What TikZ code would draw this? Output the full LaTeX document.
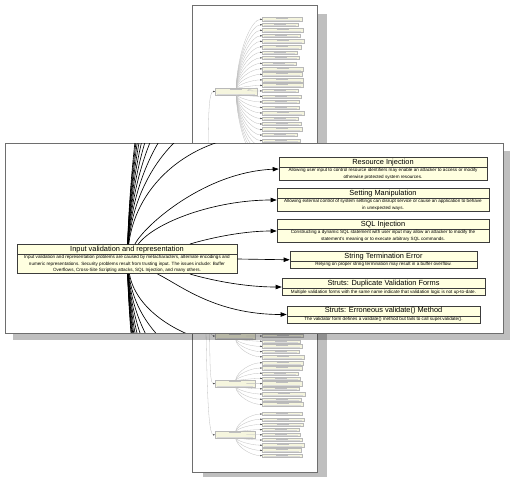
\documentclass[tikz,border=0pt]{standalone}
\usepackage{fontspec}
\setmainfont{Liberation Sans}
\usetikzlibrary{arrows.meta,shapes.multipart}

\definecolor{boxfill}{RGB}{255,255,224}
\definecolor{boxline}{RGB}{60,60,60}
\definecolor{thumbfill}{RGB}{245,245,222}
\definecolor{pageshadow}{RGB}{191,191,191}
\definecolor{frameline}{RGB}{110,110,110}

\newcommand{\ttlfont}{\fontsize{7.4}{9}\selectfont}
\newcommand{\dscfont}{\fontsize{4.6}{6.3}\selectfont}

\begin{document}
\begin{tikzpicture}[x=1pt, y=-1pt,
    vuln/.style={rectangle split, rectangle split parts=2, draw=boxline,
      line width=0.6pt, fill=boxfill, inner xsep=1pt, inner ysep=1.1pt,
      align=center, font=\ttlfont},
    every two node part/.style={font=\dscfont},
    vlink/.style={draw=black, line width=0.65pt, -{Triangle[length=6pt,width=4.4pt]}},
    thumb/.style={draw=gray!55, line width=0.25pt, fill=thumbfill, inner sep=0pt,
      minimum height=#1, anchor=west,
      path picture={
        \draw[gray!50, line width=0.6pt]
          ([xshift=-6pt,yshift=-1.1pt]path picture bounding box.north) --
          ([xshift=6pt,yshift=-1.1pt]path picture bounding box.north);
        \draw[gray!30, line width=0.5pt]
          ([xshift=2pt,yshift=0.9pt]path picture bounding box.south west) --
          ([xshift=-2pt,yshift=0.9pt]path picture bounding box.south east);}},
    thumbcat/.style={thumb=#1, anchor=center},
    tlink/.style={draw=gray!50, line width=0.3pt,
      -{Triangle[length=1.6pt,width=1.4pt,color=gray!40!black]}}]

\useasboundingbox (0,0) rectangle (510,479);

% the whole page, shrunk
\fill[pageshadow] (202.7,14) rectangle (326.7,477.3);
\draw[frameline, line width=0.8pt, fill=white] (192,5) rectangle (317,472);

\coordinate (root) at (204,250);
\node[thumbcat=7, minimum width=42pt] (tA) at (236,91.5) {};
\node[thumbcat=6.5, minimum width=40pt] (tB) at (235,336) {};
\node[thumbcat=6.5, minimum width=40pt] (tC) at (235,383.6) {};
\node[thumbcat=6.5, minimum width=40pt] (tD) at (235,434.8) {};

\draw[tlink] (root) .. controls (211,170) and (205,91.5) .. (tA.west);
\draw[tlink] (root) .. controls (210,300) and (206,336) .. (tB.west);
\draw[tlink] (root) .. controls (213,320) and (207,383.6) .. (tC.west);
\draw[tlink] (root) .. controls (207,340) and (206,434.8) .. (tD.west);

\foreach \w/\h [count=\i] in {40/4.2,36/3,41/4.2,38/3,42/4.2,39/4.2,35/3,37/3,34/3,41/4.2,
    39.7/4.2,40.5/4.2,40.5/4.2,35.7/2.9,38.7/3,36.8/2.9,
    37/3,42/4.2,36/3,39/3,40/4.2,35/3,38/3,41/4.2,36/3,40/4.2,37/3}{
  \pgfmathsetmacro{\ty}{19.3+5.51*(\i-1)}
  \pgfmathsetmacro{\tc}{91.5+0.6*(\ty-91.5)}
  \node[thumb=\h, minimum width=\w pt] (ta\i) at (262,\ty) {};
  \draw[tlink] (tA) .. controls (238,\tc) and (252,\ty) .. (ta\i.west);
}
\foreach \w/\h [count=\i] in {43/4.2,38/3,40/4.2,36/3,41/3,38/3,40/4.2,37/3,42/4.2}{
  \pgfmathsetmacro{\ty}{315.2+5.2*(\i-1)}
  \pgfmathsetmacro{\tc}{336+0.6*(\ty-336)}
  \node[thumb=\h, minimum width=\w pt] (tb\i) at (262,\ty) {};
  \draw[tlink] (tB) .. controls (237,\tc) and (251,\ty) .. (tb\i.west);
}
\foreach \w/\h [count=\i] in {41/4.2,40/4.2,36/3,38/3,40/4.2,37/3,43/4.2,39/3,41/4.2}{
  \pgfmathsetmacro{\ty}{362.8+5.2*(\i-1)}
  \pgfmathsetmacro{\tc}{383.6+0.6*(\ty-383.6)}
  \node[thumb=\h, minimum width=\w pt] (tc\i) at (262,\ty) {};
  \draw[tlink] (tC) .. controls (237,\tc) and (251,\ty) .. (tc\i.west);
}
\foreach \w/\h [count=\i] in {40/3,42/3,41/3,37/3,38/3,40/3,42/4.2,39/4.2,40/3}{
  \pgfmathsetmacro{\ty}{414+5.2*(\i-1)}
  \pgfmathsetmacro{\tc}{434.8+0.6*(\ty-434.8)}
  \node[thumb=\h, minimum width=\w pt] (td\i) at (262,\ty) {};
  \draw[tlink] (tD) .. controls (237,\tc) and (251,\ty) .. (td\i.west);
}

% magnified view
\fill[black, opacity=0.25] (13,151) rectangle (510,340);
\draw[frameline, line width=0.8pt, fill=white] (5,143) rectangle (503,333);

\begin{scope}
\clip (5.5,143.5) rectangle (502.5,332.5);

\node[vuln, minimum width=220pt] (iv) at (127,259)
  {Input validation and representation
   \nodepart{two}Input validation and representation problems are caused by metacharacters, alternate encodings and\\
   numeric representations. Security problems result from trusting input. The issues include: Buffer\\
   Overflows, Cross-Site Scripting attacks, SQL Injection, and many others.};

\node[vuln, minimum width=208pt] (ri) at (383,169)
  {Resource Injection
   \nodepart{two}Allowing user input to control resource identifiers may enable an attacker to access or modify\\
   otherwise protected system resources.};
\node[vuln, minimum width=212pt] (sm) at (383,200)
  {Setting Manipulation
   \nodepart{two}Allowing external control of system settings can disrupt service or cause an application to behave\\
   in unexpected ways.};
\node[vuln, minimum width=212pt] (sq) at (383,231)
  {SQL Injection
   \nodepart{two}Constructing a dynamic SQL statement with user input may allow an attacker to modify the\\
   statement's meaning or to execute arbitrary SQL commands.};
\node[vuln, minimum width=187pt] (st) at (383.5,259.8)
  {String Termination Error
   \nodepart{two}Relying on proper string termination may result in a buffer overflow.};
\node[vuln, minimum width=203pt] (sd) at (383.5,287)
  {Struts: Duplicate Validation Forms
   \nodepart{two}Multiple validation forms with the same name indicate that validation logic is not up-to-date.};
\node[vuln, minimum width=193pt] (se) at (383.5,314.5)
  {Struts: Erroneous validate() Method
   \nodepart{two}The validator form defines a validate() method but fails to call super.validate().};

\draw[vlink] (iv) .. controls (145,225) and (205,172) .. (ri.west);
\draw[vlink] (iv) .. controls (155,222) and (215,200) .. (sm.west);
\draw[vlink] (iv) .. controls (190,244) and (232,231) .. (sq.west);
\draw[vlink] (iv.east) -- (st.west);
\draw[vlink] (iv) .. controls (190,274) and (232,287) .. (sd.west);
\draw[vlink] (iv) .. controls (180,285) and (215,314.5) .. (se.west);

% children that lie outside the view
\foreach \k in {1,...,10}{
  \pgfmathsetmacro{\yb}{165-31*\k}
  \pgfmathsetmacro{\ya}{259+0.6*(\yb-259)}
  \coordinate (up\k) at (276,\yb);
  \draw[vlink] (iv) .. controls (136,\ya) and (192,\yb) .. (up\k);
}
\foreach \k in {1,...,11}{
  \pgfmathsetmacro{\yb}{319+31*\k}
  \pgfmathsetmacro{\ya}{259+0.6*(\yb-259)}
  \coordinate (dn\k) at (276,\yb);
  \draw[vlink] (iv) .. controls (136,\ya) and (192,\yb) .. (dn\k);
}
\end{scope}

\end{tikzpicture}
\end{document}
